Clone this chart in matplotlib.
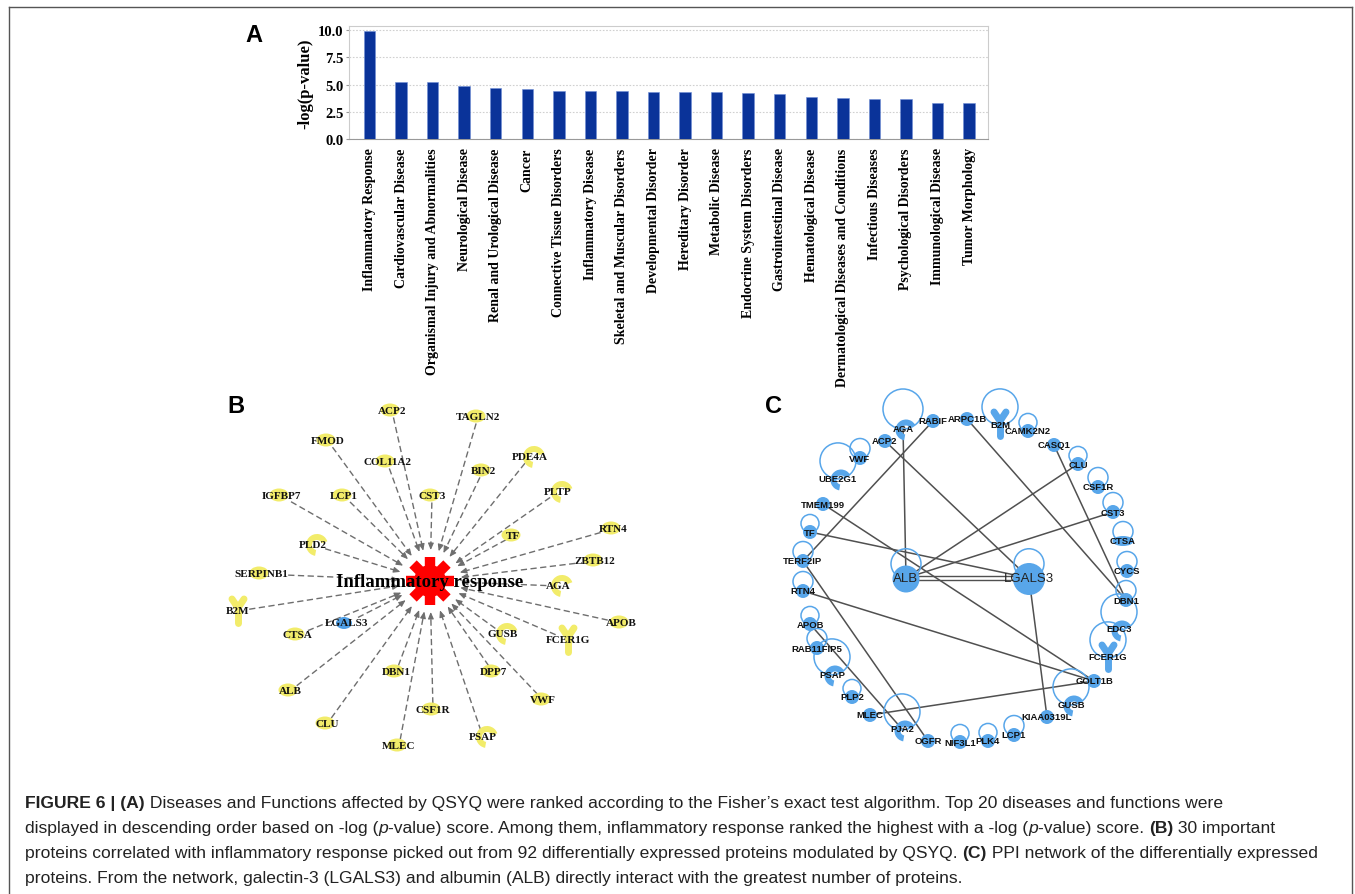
import numpy as np
import matplotlib
matplotlib.use('Agg')
import matplotlib.pyplot as plt
from matplotlib import font_manager as fm
from matplotlib.patches import Ellipse, Circle, Wedge, Polygon
from matplotlib.lines import Line2D

W, H = 1355, 895

# ---------------- Panel A data ----------------
diseases = ["Inflammatory Response", "Cardiovascular Disease",
            "Organismal Injury and Abnormalities", "Neurological Disease",
            "Renal and Urological Disease", "Cancer", "Connective Tissue Disorders",
            "Inflammatory Disease", "Skeletal and Muscular Disorders",
            "Developmental Disorder", "Hereditary Disorder", "Metabolic Disease",
            "Endocrine System Disorders", "Gastrointestinal Disease",
            "Hematological Disease", "Dermatological Diseases and Conditions",
            "Infectious Diseases", "Psychological Disorders",
            "Immunological Disease", "Tumor Morphology"]
neglogp = [9.88, 5.27, 5.27, 4.9, 4.66, 4.57, 4.36, 4.36, 4.36, 4.27,
           4.27, 4.27, 4.24, 4.12, 3.87, 3.75, 3.66, 3.66, 3.26, 3.26]
yticks_A = [0.0, 2.5, 5.0, 7.5, 10.0]

# ---------------- Panel B data (offsets from hub, px) ----------------
b_genes = ["ACP2", "TAGLN2", "FMOD", "COL11A2", "BIN2", "PDE4A", "IGFBP7", "LCP1",
           "CST3", "PLTP", "TF", "RTN4", "PLD2", "ZBTB12", "SERPINB1", "AGA", "B2M",
           "LGALS3", "APOB", "CTSA", "GUSB", "FCER1G", "DBN1", "DPP7", "ALB", "VWF",
           "CSF1R", "CLU", "PSAP", "MLEC"]
b_dx = [-38, 48, -102, -43, 53, 100, -149, -86, 2, 128, 83, 183, -117, 165, -169,
        128, -192, -83, 191, -133, 73, 138, -34, 63, -140, 113, 3, -103, 53, -31]
b_dy = [-170, -164, -140, -119, -110, -124, -85, -85, -85, -89, -45, -52, -36, -20, -7,
        5, 30, 42, 42, 54, 53, 59, 91, 91, 110, 119, 129, 143, 156, 165]
b_shape = ["e", "e", "e", "e", "e", "c", "e", "e", "e", "c", "e", "e", "c", "e", "e",
           "c", "y", "b", "e", "e", "c", "y", "e", "e", "e", "e", "e", "e", "c", "e"]
hub_label = "Inflammatory response"

# ---------------- Panel C data (px in panel) ----------------
c_genes = ["AGA", "RABIF", "ARPC1B", "B2M", "CAMK2N2", "CASQ1", "CLU", "CSF1R", "CST3",
           "CTSA", "CYCS", "DBN1", "EDC3", "FCER1G", "GOLT1B", "GUSB", "KIAA0319L",
           "LCP1", "PLK4", "NIF3L1", "OGFR", "PJA2", "MLEC", "PLP2", "PSAP",
           "RAB11FIP5", "APOB", "RTN4", "TERF2IP", "TF", "TMEM199", "UBE2G1", "VWF",
           "ACP2", "ALB", "LGALS3"]
c_x = [903, 933, 967, 1000, 1028, 1054, 1078, 1098, 1113, 1123, 1127, 1126, 1119, 1108,
       1094, 1071, 1047, 1014, 988, 960, 928, 902, 870, 852, 832, 817, 810, 803, 803, 810,
       823, 838, 860, 885, 906, 1029]
c_y = [429, 422, 420, 425, 432, 446, 465, 488, 513, 542, 572, 601, 630, 658, 682, 705,
       718, 736, 742, 743, 742, 730, 716, 698, 675, 649, 625, 592, 562, 533, 505, 479,
       459, 442, 579, 579]
c_loop = [20, 0, 0, 18, 9, 0, 9, 10, 10, 10, 10, 10, 18, 18, 0, 18, 0, 10, 9, 9, 0, 18,
          0, 9, 18, 10, 9, 10, 10, 9, 0, 18, 10, 0, 15, 15]
c_shape = ["c", "o", "o", "y", "o", "o", "o", "o", "o", "e", "o", "o", "c", "y", "o", "c",
           "o", "o", "o", "o", "o", "c", "o", "o", "c", "o", "o", "o", "o", "o", "o", "c",
           "o", "o", "B", "B"]
c_edges = [("AGA", "ALB"), ("RABIF", "TERF2IP"), ("ACP2", "LGALS3"), ("ARPC1B", "DBN1"),
           ("CASQ1", "DBN1"), ("CLU", "ALB"), ("CST3", "ALB"), ("TMEM199", "GOLT1B"),
           ("TF", "LGALS3"), ("TERF2IP", "OGFR"), ("RTN4", "GOLT1B"), ("APOB", "PJA2"),
           ("MLEC", "GOLT1B"), ("LGALS3", "KIAA0319L")]
c_double = [("ALB", "LGALS3")]

# ---------------- Caption ----------------
caption = [
    [("FIGURE 6 | (A)", "bold", "normal"),
     (" Diseases and Functions affected by QSYQ were ranked according to the Fisher\u2019s exact test algorithm. Top 20 diseases and functions were", "normal", "normal")],
    [("displayed in descending order based on -log (", "normal", "normal"), ("p", "normal", "italic"),
     ("-value) score. Among them, inflammatory response ranked the highest with a -log (", "normal", "normal"),
     ("p", "normal", "italic"), ("-value) score. ", "normal", "normal"), ("(B)", "bold", "normal"),
     (" 30 important", "normal", "normal")],
    [("proteins correlated with inflammatory response picked out from 92 differentially expressed proteins modulated by QSYQ. ", "normal", "normal"),
     ("(C)", "bold", "normal"), (" PPI network of the differentially expressed", "normal", "normal")],
    [("proteins. From the network, galectin-3 (LGALS3) and albumin (ALB) directly interact with the greatest number of proteins.", "normal", "normal")],
]
caption_right = [1278, 1322, 1323, None]

SERIF = "Liberation Serif"
SANS = "Liberation Sans"
names = {f.name for f in fm.fontManager.ttflist}
CAP = "Liberation Sans Narrow" if "Liberation Sans Narrow" in names else SANS

fig = plt.figure(figsize=(W / 100, H / 100), dpi=100)
fig.patch.set_facecolor("white")

def fx(p):
    return p / W

def fy(p):
    return 1 - p / H

# frame
for xs, ys in [((9, 9), (8, 900)), ((9, 1352), (8, 8)), ((1352, 1352), (8, 900))]:
    fig.add_artist(Line2D([fx(xs[0]), fx(xs[1])], [fy(ys[0]), fy(ys[1])],
                          color="#555555", lw=1.0))

# ---------------- Panel A ----------------
axA = fig.add_axes([fx(349), fy(140), (988 - 349) / W, (140 - 27) / H])
x = np.arange(len(diseases))
axA.bar(x, neglogp, width=0.36, color="#0a3399", edgecolor="#6f8fd6", linewidth=0.4, zorder=3)
axA.set_xlim(-0.65, len(diseases) - 0.4)
axA.set_ylim(0, 10.37)
axA.set_yticks(yticks_A)
axA.set_yticklabels([f"{v:.1f}" for v in yticks_A], fontfamily=SERIF, fontweight="bold", fontsize=10.5)
axA.set_xticks(x)
axA.set_xticklabels(diseases, rotation=90, fontfamily=SERIF, fontweight="bold", fontsize=10, va="top")
axA.tick_params(axis="x", length=0, pad=6)
axA.tick_params(axis="y", length=2, pad=2, color="#999999")
axA.set_ylabel("-log(p-value)", fontfamily=SERIF, fontweight="bold", fontsize=12, labelpad=3)
axA.yaxis.grid(True, ls=(0, (1.5, 1.5)), color="#d0d0d0", lw=0.8, zorder=0)
for s in ["top", "right", "left"]:
    axA.spines[s].set_color("#cccccc")
axA.spines["bottom"].set_color("#999999")
fig.text(fx(254), fy(36), "A", fontfamily=SANS, fontweight="bold", fontsize=17, ha="center", va="center")

# ---------------- Panel B ----------------
HUBX, HUBY = 430, 582
axB = fig.add_axes([fx(220), fy(770), 460 / W, 378 / H])
axB.set_xlim(220 - HUBX, 680 - HUBX)
axB.set_ylim(770 - HUBY, 392 - HUBY)
axB.axis("off")
YEL = "#f2ec6a"
gray = "#6e6e6e"
r_end = 31
for name, dx, dy in zip(b_genes, b_dx, b_dy):
    d = np.hypot(dx, dy)
    ux, uy = dx / d, dy / d
    hw, hh = 3.2 * len(name) + 2, 6.5
    t = 1 / np.sqrt((ux / hw) ** 2 + (uy / hh) ** 2)
    sx, sy = dx - ux * t, dy - uy * t
    ex, ey = ux * r_end, uy * r_end
    axB.plot([sx, ex + ux * 5], [sy, ey + uy * 5], ls=(0, (4.5, 2.5)), color=gray, lw=1.0, zorder=2)
    axB.annotate("", xy=(ex, ey), xytext=(ex + ux * 7, ey + uy * 7),
                 arrowprops=dict(arrowstyle="-|>,head_length=0.4,head_width=0.17",
                                 color=gray, lw=0.8, shrinkA=0, shrinkB=0), zorder=2)

for name, dx, dy, shp in zip(b_genes, b_dx, b_dy, b_shape):
    if shp == "e":
        axB.add_patch(Ellipse((dx - 2, dy - 1), 19, 13, color=YEL, zorder=3, lw=0))
    elif shp == "b":
        axB.add_patch(Ellipse((dx - 3, dy), 16, 12, color="#4f9fe6", zorder=3, lw=0))
    elif shp == "c":
        axB.add_patch(Wedge((dx + 4, dy), 11, 100, 340, width=6, color=YEL, zorder=3, lw=0))
    elif shp == "y":
        axB.plot([dx - 6, dx, dx + 6], [dy - 12, dy - 3, dy - 12], color=YEL, lw=5,
                 solid_capstyle="round", zorder=3)
        axB.plot([dx, dx], [dy - 3, dy + 12], color=YEL, lw=5, solid_capstyle="round", zorder=3)
    axB.text(dx, dy, name, fontfamily=SERIF, fontweight="bold", fontsize=8, ha="center",
             va="center", zorder=5, color="#111111")

# gear
pts = []
n_teeth, body, tip, half = 8, 16, 24, 5.2
for i in range(n_teeth):
    a = np.deg2rad(-90 + i * 360 / n_teeth)
    u = np.array([np.cos(a), np.sin(a)])
    v = np.array([-np.sin(a), np.cos(a)])
    bb = np.sqrt(body ** 2 - half ** 2)
    pts += [bb * u - half * v, tip * u - half * v, tip * u + half * v, bb * u + half * v]
axB.add_patch(Polygon(pts, closed=True, color="#ff0000", zorder=4, lw=0))
axB.text(0, 1, hub_label, fontfamily=SERIF, fontweight="bold", fontsize=13.5, ha="center",
         va="center", zorder=6)
fig.text(fx(236), fy(407), "B", fontfamily=SANS, fontweight="bold", fontsize=17, ha="center", va="center")

# ---------------- Panel C ----------------
axC = fig.add_axes([fx(760), fy(765), 400 / W, 380 / H])
axC.set_xlim(760, 1160)
axC.set_ylim(765, 385)
axC.axis("off")
BLUE = "#58a6ea"
pos = {g: (xx, yy) for g, xx, yy in zip(c_genes, c_x, c_y)}
for a, b in c_edges:
    axC.plot([pos[a][0], pos[b][0]], [pos[a][1], pos[b][1]], color="#505050", lw=1.1, zorder=2)
for a, b in c_double:
    for off in (-2, 2):
        axC.plot([pos[a][0], pos[b][0]], [pos[a][1] + off, pos[b][1] + off], color="#505050",
                 lw=1.0, zorder=2)
for g, xx, yy, lr, shp in zip(c_genes, c_x, c_y, c_loop, c_shape):
    if lr > 0:
        axC.add_patch(Circle((xx, yy - lr * 0.95), lr, fill=False, ec=BLUE, lw=1.1, zorder=3))
    if shp == "o":
        axC.add_patch(Circle((xx, yy), 7, color=BLUE, zorder=4, lw=0))
    elif shp == "e":
        axC.add_patch(Ellipse((xx, yy), 21, 10, color=BLUE, zorder=4, lw=0))
    elif shp == "c":
        axC.add_patch(Wedge((xx + 3, yy + 2), 10.5, 100, 330, width=6, color=BLUE, zorder=4, lw=0))
    elif shp == "y":
        axC.plot([xx - 6, xx, xx + 6], [yy - 12, yy - 3, yy - 12], color=BLUE, lw=5,
                 solid_capstyle="round", zorder=4)
        axC.plot([xx, xx], [yy - 3, yy + 12], color=BLUE, lw=5, solid_capstyle="round", zorder=4)
    elif shp == "B":
        rr = 13.5 if g == "ALB" else 16
        axC.add_patch(Circle((xx, yy + 1), rr, color=BLUE, zorder=4, lw=0))
    if shp == "B":
        axC.text(xx, yy, g, fontfamily=SANS, fontsize=9.5, ha="center", va="center",
                 color="#222222", zorder=6)
    else:
        axC.text(xx, yy, g, fontfamily=SANS, fontweight="bold", fontsize=6.8, ha="center",
                 va="center", color="#111111", zorder=6)
fig.text(fx(773), fy(407), "C", fontfamily=SANS, fontweight="bold", fontsize=17, ha="center", va="center")

# ---------------- Caption ----------------
renderer = fig.canvas.get_renderer()

def run_width(s, size, weight, style):
    t1 = fig.text(0, 0, "|" + s + "|", fontfamily=CAP, fontsize=size, fontweight=weight, fontstyle=style)
    w1 = t1.get_window_extent(renderer).width
    t1.remove()
    t0 = fig.text(0, 0, "||", fontfamily=CAP, fontsize=size, fontweight=weight, fontstyle=style)
    w0 = t0.get_window_extent(renderer).width
    t0.remove()
    return w1 - w0

base = 11.3
scales = []
for line, right in zip(caption, caption_right):
    if right is None:
        continue
    wl = sum(run_width(s, base, wt, st) for s, wt, st in line)
    scales.append((right - 25) / wl)
cap_size = base * min(scales)
baselines = [808, 833, 858, 883]
for line, yb in zip(caption, baselines):
    xp = 25
    for s, wt, st in line:
        fig.text(fx(xp), fy(yb), s, fontfamily=CAP, fontsize=cap_size, fontweight=wt,
                 fontstyle=st, va="baseline", ha="left", color="#222222")
        xp += run_width(s, cap_size, wt, st)

fig.savefig("out.png", dpi=100, facecolor="white")
